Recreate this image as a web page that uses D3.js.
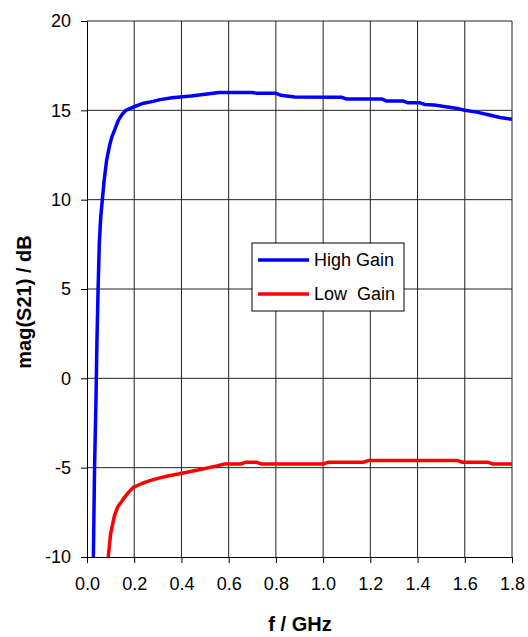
<!doctype html>
<html lang="en">
  <head>
    <meta charset="UTF-8" />
    <title>mag(S21) vs frequency</title>
    <script src="https://d3js.org/d3.v7.min.js"></script>
    <style>
      body {
        margin: 0;
        padding: 0;
        background: #fff;
        font-family: 'Liberation Sans', Arial, sans-serif;
      }
      .tick text {
        font-size: 18px;
        fill: #000;
      }
      .axis-title {
        font-size: 20px;
        font-weight: bold;
        fill: #000;
      }
      .legend-item {
        font-size: 18px;
        fill: #000;
        white-space: pre;
      }
    </style>
  </head>
  <body>
    <div id="chart"></div>
    <script>
      // x ticks (GHz) and y ticks (dB)
      const xTicks = [0, 0.2, 0.4, 0.6, 0.8, 1.0, 1.2, 1.4, 1.6, 1.8]
      const yTicks = [-10, -5, 0, 5, 10, 15, 20]

      // High Gain curve: frequency / GHz and mag(S21) / dB
      const highF = [0.027, 0.032, 0.038, 0.042, 0.047, 0.052, 0.058, 0.065, 0.072, 0.083, 0.095, 0.105, 0.12, 0.133, 0.15, 0.165, 0.18, 0.2, 0.22, 0.24, 0.28, 0.31, 0.36, 0.44, 0.5, 0.56, 0.7, 0.72, 0.8, 0.82, 0.88, 1.08, 1.1, 1.25, 1.27, 1.34, 1.36, 1.41, 1.43, 1.47, 1.52, 1.57, 1.6, 1.65, 1.7, 1.75, 1.8]
      const highDb = [-10, -5, -1.2, 2, 5, 7.5, 9, 10, 11, 12.2, 13, 13.5, 14, 14.45, 14.8, 15.0, 15.1, 15.2, 15.3, 15.4, 15.5, 15.6, 15.7, 15.8, 15.9, 16.0, 16.0, 15.95, 15.95, 15.85, 15.75, 15.73, 15.63, 15.63, 15.52, 15.52, 15.42, 15.42, 15.33, 15.3, 15.2, 15.1, 15.0, 14.9, 14.75, 14.6, 14.5]

      // Low Gain curve
      const lowF = [0.09, 0.1, 0.116, 0.13, 0.154, 0.175, 0.196, 0.23, 0.26, 0.3, 0.337, 0.408, 0.49, 0.55, 0.58, 0.65, 0.67, 0.72, 0.74, 1.0, 1.02, 1.17, 1.19, 1.57, 1.59, 1.7, 1.72, 1.8]
      const lowDb = [-10, -8.7, -7.7, -7.2, -6.75, -6.4, -6.1, -5.9, -5.75, -5.6, -5.48, -5.3, -5.07, -4.9, -4.8, -4.8, -4.7, -4.7, -4.8, -4.8, -4.7, -4.7, -4.6, -4.6, -4.7, -4.7, -4.8, -4.8]

      const series = [
        { name: 'High Gain', color: '#0000ff', f: highF, db: highDb },
        { name: 'Low  Gain', color: '#ff0000', f: lowF, db: lowDb },
      ]

      const margin = { top: 21, right: 16, bottom: 80, left: 87 }
      const width = 528 - margin.left - margin.right
      const height = 637 - margin.top - margin.bottom

      const svg = d3
        .select('#chart')
        .append('svg')
        .attr('width', 528)
        .attr('height', 637)
        .append('g')
        .attr('transform', `translate(${margin.left}, ${margin.top})`)

      const x = d3.scaleLinear().domain([0, 1.8]).range([0, width])
      const y = d3.scaleLinear().domain([-10, 20]).range([height, 0])

      // gridlines
      svg
        .append('g')
        .selectAll('line.vgrid')
        .data(xTicks.slice(1))
        .join('line')
        .attr('x1', (d) => x(d))
        .attr('x2', (d) => x(d))
        .attr('y1', 0)
        .attr('y2', height)
        .attr('stroke', '#222')
        .attr('stroke-width', 1)

      svg
        .append('g')
        .selectAll('line.hgrid')
        .data(yTicks.slice(1))
        .join('line')
        .attr('x1', 0)
        .attr('x2', width)
        .attr('y1', (d) => y(d))
        .attr('y2', (d) => y(d))
        .attr('stroke', '#222')
        .attr('stroke-width', 1)

      // axes (plain hyphen minus like the original)
      svg
        .append('g')
        .attr('transform', `translate(0, ${height})`)
        .call(
          d3
            .axisBottom(x)
            .tickValues(xTicks)
            .tickSize(6)
            .tickPadding(14)
            .tickFormat((d) => d.toFixed(1))
        )
        .call((g) => g.select('.domain').attr('stroke', '#000'))
        .call((g) => g.selectAll('.tick text').attr('font-family', null))

      svg
        .append('g')
        .call(
          d3
            .axisLeft(y)
            .tickValues(yTicks)
            .tickSize(6)
            .tickPadding(10)
            .tickFormat((d) => String(d))
        )
        .call((g) => g.select('.domain').attr('stroke', '#000'))
        .call((g) => g.selectAll('.tick text').attr('font-family', null))

      // curves
      const line = d3
        .line()
        .x((d) => x(d[0]))
        .y((d) => y(d[1]))

      svg
        .selectAll('.curve')
        .data(series)
        .join('path')
        .attr('class', 'curve')
        .attr('fill', 'none')
        .attr('stroke', (d) => d.color)
        .attr('stroke-width', 3.5)
        .attr('stroke-linejoin', 'round')
        .attr('d', (d) => line(d.f.map((f, i) => [f, d.db[i]])))

      // axis titles
      svg
        .append('text')
        .attr('class', 'axis-title')
        .attr('text-anchor', 'middle')
        .attr('x', 300 - margin.left)
        .attr('y', 631 - margin.top)
        .text('f / GHz')

      svg
        .append('text')
        .attr('class', 'axis-title')
        .attr('text-anchor', 'middle')
        .attr('transform', `translate(${31 - margin.left}, ${302 - margin.top}) rotate(-90)`)
        .text('mag(S21) / dB')

      // legend
      const legend = svg
        .append('g')
        .attr('transform', `translate(${252 - margin.left}, ${243 - margin.top})`)

      legend
        .append('rect')
        .attr('x', 0)
        .attr('y', 0)
        .attr('width', 152)
        .attr('height', 68)
        .attr('fill', '#fff')
        .attr('stroke', '#000')

      const item = legend
        .selectAll('.legend-row')
        .data(series)
        .join('g')
        .attr('class', 'legend-row')
        .attr('transform', (d, i) => `translate(0, ${17 + i * 34})`)

      item
        .append('line')
        .attr('x1', 6)
        .attr('x2', 57)
        .attr('stroke', (d) => d.color)
        .attr('stroke-width', 3.5)

      item
        .append('text')
        .attr('class', 'legend-item')
        .attr('x', 62)
        .attr('dy', '0.35em')
        .text((d) => d.name)
    </script>
  </body>
</html>
